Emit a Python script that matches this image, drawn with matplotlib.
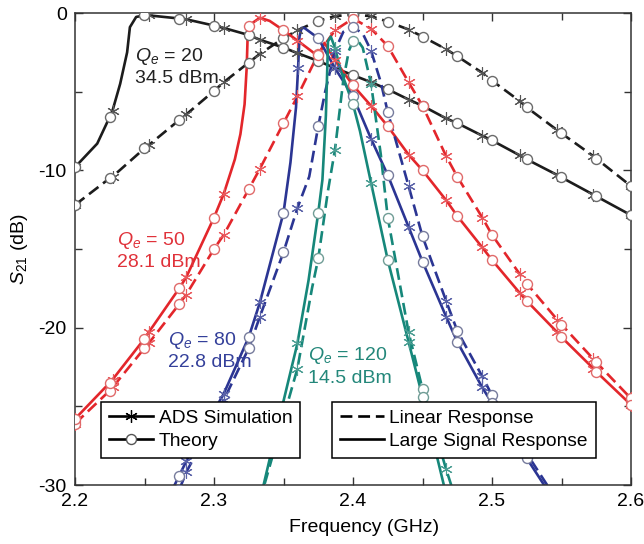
import numpy as np
import matplotlib
matplotlib.use('Agg')
import matplotlib.pyplot as plt
from matplotlib.lines import Line2D
from matplotlib.ticker import MultipleLocator

# Qe = 20, 34.5 dBm
f_lin20 = [2.2, 2.225, 2.227, 2.25, 2.253, 2.275, 2.28, 2.3, 2.307, 2.325, 2.333,
           2.35, 2.36, 2.375, 2.387, 2.4, 2.413, 2.425, 2.44, 2.45, 2.467, 2.475,
           2.493, 2.5, 2.52, 2.525, 2.547, 2.55, 2.573, 2.575, 2.6]
s21_lin20 = [-12.2, -10.5, -10.4, -8.6, -8.4, -6.8, -6.45, -4.95, -4.4, -3.15, -2.6,
             -1.6, -1.1, -0.5, -0.2, -0.1, -0.2, -0.55, -1.05, -1.5, -2.3, -2.75,
             -3.8, -4.3, -5.6, -6.0, -7.45, -7.65, -9.1, -9.25, -11.0]
f_ls20 = [2.2, 2.216, 2.225, 2.227, 2.2325, 2.2375, 2.2395, 2.244, 2.25, 2.253, 2.275,
          2.28, 2.3, 2.307, 2.325, 2.333, 2.35, 2.36, 2.375, 2.387, 2.4, 2.413, 2.425,
          2.44, 2.45, 2.467, 2.475, 2.493, 2.5, 2.52, 2.525, 2.547, 2.55, 2.573, 2.575, 2.6]
s21_ls20 = [-9.8, -8.3, -6.6, -6.2, -4.5, -2.5, -0.9, -0.25, -0.15, -0.15, -0.35,
            -0.4, -0.8, -0.95, -1.4, -1.7, -2.2, -2.55, -3.05, -3.5, -3.95, -4.4, -4.85,
            -5.5, -5.9, -6.7, -7.0, -7.8, -8.1, -9.05, -9.3, -10.3, -10.45, -11.55, -11.65, -12.85]

# Qe = 50, 28.1 dBm
f_lin50 = [2.2, 2.225, 2.227, 2.25, 2.253, 2.275, 2.28, 2.3, 2.307, 2.325, 2.333,
           2.35, 2.36, 2.375, 2.387, 2.4, 2.413, 2.425, 2.44, 2.45, 2.467, 2.475,
           2.493, 2.5, 2.52, 2.525, 2.547, 2.55, 2.573, 2.575, 2.6]
s21_lin50 = [-26.1, -24.0, -23.8, -21.3, -21.0, -18.5, -17.9, -15.0, -14.1, -11.2, -9.9,
             -7.0, -5.3, -2.6, -1.1, -0.35, -1.0, -2.1, -4.4, -5.9, -9.1, -10.4,
             -13.0, -14.1, -16.6, -17.2, -19.5, -19.8, -22.0, -22.2, -24.5]
f_ls50 = [2.2, 2.225, 2.227, 2.25, 2.253, 2.275, 2.28, 2.3, 2.307, 2.315, 2.319, 2.322,
          2.3235, 2.3242, 2.325, 2.333, 2.34, 2.35, 2.36, 2.372, 2.375, 2.3795, 2.387,
          2.4, 2.413, 2.425, 2.44, 2.45, 2.467, 2.475, 2.493, 2.5, 2.52, 2.525, 2.547,
          2.55, 2.573, 2.575, 2.6]
s21_ls50 = [-25.8, -23.5, -23.3, -20.7, -20.3, -17.5, -16.8, -13.0, -11.5, -9.3, -7.7, -5.8,
            -3.5, -1.5, -0.8, -0.3, -0.5, -1.1, -1.75, -2.55, -2.7, -1.9, -3.0,
            -4.6, -5.9, -7.2, -9.0, -10.0, -11.9, -12.9, -14.9, -15.7, -17.8, -18.3, -20.3,
            -20.6, -22.6, -22.8, -24.9]

# Qe = 80, 22.8 dBm
f_lin80 = [2.27, 2.275, 2.28, 2.3, 2.307, 2.325, 2.333, 2.35, 2.36, 2.3685, 2.375, 2.38,
           2.387, 2.393, 2.4, 2.407, 2.413, 2.42, 2.425, 2.44, 2.45, 2.467, 2.475, 2.493,
           2.5, 2.52, 2.525, 2.547]
s21_lin80 = [-31.3, -30.3, -29.2, -25.8, -24.6, -21.3, -19.3, -15.2, -12.4, -10.4, -7.2, -5.0,
             -2.4, -1.2, -0.9, -1.3, -2.4, -4.4, -6.3, -11.0, -14.2, -18.3, -20.2, -23.1,
             -24.3, -27.2, -28.0, -31.0]
f_ls80 = [2.265, 2.275, 2.28, 2.3, 2.307, 2.325, 2.333, 2.35, 2.355, 2.359, 2.3605, 2.3615,
          2.363, 2.365, 2.375, 2.387, 2.4, 2.413, 2.425, 2.44, 2.45, 2.467, 2.475, 2.493,
          2.5, 2.52, 2.525, 2.547]
s21_ls80 = [-31.2, -29.4, -28.5, -25.3, -24.2, -20.6, -18.4, -12.7, -9.5, -6.0, -3.5, -1.5,
            -0.95, -0.95, -1.6, -3.5, -5.3, -8.0, -10.3, -13.6, -15.8, -19.3, -20.9, -23.8,
            -24.8, -27.6, -28.3, -31.3]

# Qe = 120, 14.5 dBm
f_lin120 = [2.333, 2.36, 2.3705, 2.375, 2.382, 2.387, 2.393, 2.397, 2.4, 2.403, 2.407,
            2.413, 2.42, 2.425, 2.44, 2.45, 2.467, 2.475]
s21_lin120 = [-31.0, -22.6, -17.5, -15.6, -11.3, -8.7, -4.3, -2.4, -1.8, -1.7, -2.2,
              -4.5, -9.0, -13.0, -20.3, -23.9, -29.0, -31.2]
f_ls120 = [2.333, 2.345, 2.36, 2.368, 2.375, 2.378, 2.3805, 2.3815, 2.382, 2.384, 2.387,
           2.391, 2.4, 2.405, 2.413, 2.425, 2.44, 2.45, 2.467]
s21_ls120 = [-31.0, -26.5, -21.0, -17.0, -12.7, -10.6, -6.5, -3.5, -1.8, -1.5, -2.2,
             -3.6, -5.8, -7.5, -10.8, -15.7, -20.9, -24.4, -30.6]

qe_labels = ['$Q_e$ = 20', '$Q_e$ = 50', '$Q_e$ = 80', '$Q_e$ = 120']
power_labels = ['34.5 dBm', '28.1 dBm', '22.8 dBm', '14.5 dBm']

# frequency grids of the two marker sets
theory_step = 0.025
ads_step = 0.4 / 15

plt.rcParams['font.family'] = ['Liberation Sans', 'DejaVu Sans']
plt.rcParams['mathtext.fontset'] = 'custom'
plt.rcParams['mathtext.rm'] = 'Liberation Sans'
plt.rcParams['mathtext.it'] = 'Liberation Sans:italic'
plt.rcParams['axes.unicode_minus'] = False

colors = ['#1c1c1c', '#e3262b', '#2b3593', '#16877a']
star_colors = ['#555555', '#e9585c', '#5a62a8', '#4a9d92']
circle_edge = ['#6a6a6a', '#e06a6a', '#767b9c', '#6f9c95']


def on_grid(f, step):
    f = np.asarray(f)
    k = np.round((f - 2.2) / step)
    return np.abs(2.2 + k * step - f) < 6e-4


def draw(ax, f, s, i, ls):
    f = np.asarray(f)
    s = np.asarray(s)
    ax.plot(f, s, color=colors[i], lw=1.9, ls=ls, zorder=2)
    m = on_grid(f, ads_step)
    ax.plot(f[m], s[m], ls='none', marker=(6, 2, 0), ms=9, mew=0.8,
            mec=star_colors[i], zorder=3)
    m = on_grid(f, theory_step)
    ax.plot(f[m], s[m], ls='none', marker='o', ms=7.2, mew=1.0,
            mfc='white', mec=circle_edge[i], zorder=4)


dash = (0, (4.5, 2.2))

fig = plt.figure(figsize=(6.44, 5.44), dpi=100)
ax = fig.add_axes([75 / 644, 1 - 485 / 544, 556 / 644, 472 / 544])

draw(ax, f_lin20, s21_lin20, 0, dash)
draw(ax, f_ls20, s21_ls20, 0, '-')
draw(ax, f_lin50, s21_lin50, 1, dash)
draw(ax, f_ls50, s21_ls50, 1, '-')
draw(ax, f_lin80, s21_lin80, 2, dash)
draw(ax, f_ls80, s21_ls80, 2, '-')
draw(ax, f_lin120, s21_lin120, 3, dash)
draw(ax, f_ls120, s21_ls120, 3, '-')

ax.set_xlim(2.2, 2.6)
ax.set_ylim(-30, 0)
ax.xaxis.set_major_locator(MultipleLocator(0.1))
ax.xaxis.set_minor_locator(MultipleLocator(0.05))
ax.yaxis.set_major_locator(MultipleLocator(10))
ax.yaxis.set_minor_locator(MultipleLocator(5))
ax.tick_params(which='both', direction='in', top=True, right=True,
               labelsize=14, width=1.0, color='#333333')
ax.tick_params(which='major', length=6, pad=6)
ax.tick_params(which='minor', length=5)
for sp in ax.spines.values():
    sp.set_linewidth(1.1)
    sp.set_color('#333333')

ax.set_xlabel('Frequency (GHz)', fontsize=14, labelpad=3)
ax.xaxis.set_label_coords(0.52, -0.072)
ax.set_ylabel('$S_{21}$ (dB)', fontsize=14, labelpad=6)

# annotations (left x, baseline y of first and second line)
text_pos = [(2.2432, -3.05, -4.45), (2.2302, -14.75, -16.15),
            (2.2669, -21.1, -22.5), (2.3676, -22.06, -23.52)]
text_colors = ['#222222', '#e0323a', '#34409a', '#23877a']
for (x, y1, y2), q, p, c in zip(text_pos, qe_labels, power_labels, text_colors):
    ax.text(x, y1, q, color=c, fontsize=14, ha='left', va='baseline', zorder=6)
    ax.text(x, y2, p, color=c, fontsize=14, ha='left', va='baseline', zorder=6)

h1 = [Line2D([], [], color='black', lw=1.9, marker=(6, 2, 0), ms=9, mew=0.9),
      Line2D([], [], color='black', lw=1.9, marker='o', ms=7.2, mfc='white',
             mec='#555555')]
leg1 = ax.legend(h1, ['ADS Simulation', 'Theory'], loc='upper left',
                 bbox_to_anchor=(0.047, 0.176), borderaxespad=0, fontsize=13.8,
                 handlelength=2.3, handletextpad=0.3, labelspacing=0.3,
                 borderpad=0.4, fancybox=False, framealpha=1,
                 edgecolor='black')
leg1.get_frame().set_linewidth(1.1)
leg1.set_zorder(10)
ax.add_artist(leg1)

h2 = [Line2D([], [], color='black', lw=1.9, ls=dash),
      Line2D([], [], color='black', lw=1.9)]
leg2 = ax.legend(h2, ['Linear Response', 'Large Signal Response'],
                 loc='upper left', bbox_to_anchor=(0.462, 0.176), borderaxespad=0,
                 fontsize=13.8, handlelength=2.3, handletextpad=0.3,
                 labelspacing=0.3, borderpad=0.4, fancybox=False, framealpha=1,
                 edgecolor='black')
leg2.get_frame().set_linewidth(1.1)
leg2.set_zorder(10)

fig.savefig('out.png', dpi=100)
